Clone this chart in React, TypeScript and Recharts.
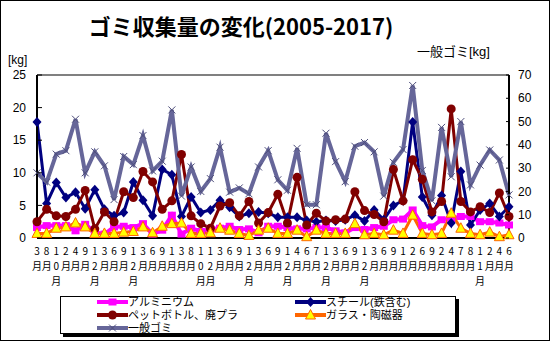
import { ComposedChart, Line, XAxis, YAxis, ReferenceLine, Legend } from "recharts";

// 月ラベル(2005-2017)
const months = [
  "3月", "8月", "10月", "2月", "4月", "9月", "12月", "3月", "6月", "9月",
  "12月", "3月", "6月", "9月", "1月", "3月", "8月", "10月", "12月", "3月",
  "6月", "9月", "12月", "3月", "6月", "9月", "12月", "4月", "6月", "7月",
  "12月", "3月", "6月", "9月", "12月", "3月", "6月", "9月", "1月", "2月",
  "6月", "9月", "2月", "4月", "7月", "8月", "11月", "2月", "4月", "6月",
];

const aluminum = [
  1.6, 1.9, 1.9, 1.9, 1.1, 2.1, 0.9, 0.6, 1.7, 1.8,
  1.6, 2.2, 0.6, 1.2, 3.5, 0.6, 1.5, 1.0, 1.4, 1.5,
  1.8, 1.3, 1.4, 0.8, 1.8, 1.8, 1.6, 1.4, 1.4, 1.6,
  1.6, 1.1, 0.8, 1.6, 1.3, 1.6, 1.8, 2.8, 2.9, 4.3,
  1.9, 1.7, 2.8, 3.0, 3.3, 3.3, 2.5, 2.5, 2.3, 2.0,
];

const steel = [
  17.8, 5.3, 8.5, 6.2, 7.0, 4.5, 7.4, 4.4, 3.4, 3.9,
  8.6, 5.8, 3.4, 10.5, 9.7, 3.3, 6.3, 3.9, 4.3, 5.8,
  4.7, 3.3, 3.8, 4.0, 3.8, 3.2, 3.2, 3.2, 2.7, 2.5,
  2.7, 2.6, 2.8, 3.5, 2.6, 4.3, 2.8, 5.0, 5.7, 17.8,
  6.3, 3.5, 6.5, 2.3, 10.2, 2.0, 4.3, 5.3, 3.3, 4.8,
];

const pet = [
  2.5, 4.4, 3.4, 3.3, 4.4, 7.3, 1.4, 4.0, 2.5, 7.1,
  6.2, 10.2, 8.6, 4.4, 5.7, 12.8, 3.4, 2.2, 1.5, 4.9,
  5.4, 3.4, 5.6, 2.3, 3.9, 6.7, 2.3, 9.3, 2.0, 3.8,
  2.6, 2.8, 2.9, 7.1, 4.2, 3.6, 2.5, 10.5, 5.7, 12.0,
  9.0, 4.0, 5.6, 19.8, 5.6, 4.0, 4.8, 3.9, 6.9, 3.3,
];

const glass = [
  0.7, 0.7, 1.5, 1.7, 2.3, 1.7, 0.7, 0.7, 0.7, 0.9,
  1.0, 1.7, 0.8, 1.8, 2.2, 2.3, 0.7, 0.7, 0.8, 1.5,
  1.2, 0.7, 0.4, 1.2, 1.5, 0.7, 0.7, 1.2, 0.2, 1.2,
  0.7, 0.7, 0.7, 2.2, 0.5, 0.7, 0.5, 1.2, 0.7, 3.5,
  0.7, 0.5, 0.7, 3.8, 1.5, 0.7, 0.5, 0.9, 0.2, 0.5,
];

const general = [
  28, 24, 36, 37.5, 51, 28, 37, 31, 16.5, 35,
  31.5, 44, 28.8, 33, 55, 18, 30.5, 20, 25.5, 39,
  19.7, 21.5, 19, 30.5, 37.5, 25, 20.5, 38.5, 14.3, 14.3,
  45, 32.8, 24.2, 39.4, 41, 37, 18, 32.5, 38, 65.5,
  29, 16, 47.5, 26.3, 50, 22.8, 31.3, 37.8, 33.5, 18.5,
];

const leftTicks = [0, 5, 10, 15, 20, 25];
const rightTicks = [0, 10, 20, 30, 40, 50, 60, 70];

const data = months.map((m, i) => ({
  month: m,
  aluminum: aluminum[i],
  steel: steel[i],
  pet: pet[i],
  glass: glass[i],
  general: general[i],
}));

const FONT = "'Noto Sans CJK JP', 'Noto Sans', sans-serif";
// 小さい文字は行の高さが詰まるのでLiberationを先頭に
const SMALL_FONT = "'Liberation Sans', 'Noto Sans CJK JP', sans-serif";

// マーカー
const marker = (key: string, cx: number, cy: number, k?: any) => {
  switch (key) {
    case "aluminum":
      return <rect key={k} x={cx - 4} y={cy - 3.5} width={8} height={7} fill="#FF00FF" />;
    case "steel":
      return (
        <polygon
          key={k}
          points={`${cx},${cy - 5} ${cx + 4.5},${cy} ${cx},${cy + 5} ${cx - 4.5},${cy}`}
          fill="#000080"
        />
      );
    case "pet":
      return <circle key={k} cx={cx} cy={cy} r={4.5} fill="#800000" />;
    case "glass":
      return (
        <polygon
          key={k}
          points={`${cx},${cy - 5.5} ${cx + 5},${cy + 4} ${cx - 5},${cy + 4}`}
          fill="#FFFF00"
          stroke="#FF6600"
          strokeWidth={1}
        />
      );
    default:
      return (
        <g key={k} stroke="#4d4d7a" strokeWidth={1}>
          <line x1={cx - 3.5} y1={cy - 3.5} x2={cx + 3.5} y2={cy + 3.5} />
          <line x1={cx - 3.5} y1={cy + 3.5} x2={cx + 3.5} y2={cy - 3.5} />
        </g>
      );
  }
};

const dotFor = (key: string) => (props: any) => {
  if (props.cx == null || props.cy == null) return <g key={props.index} />;
  return marker(key, props.cx, props.cy, props.index);
};

const MonthTick = (props: any) => {
  const { x, y, payload } = props;
  const chars = String(payload.value).split("");
  return (
    <text x={x} y={y} textAnchor="middle" fontSize={10} fill="#000" fontFamily={FONT}>
      {chars.map((c, i) => (
        <tspan key={i} x={x} dy={i === 0 ? 17 : 15}>
          {c}
        </tspan>
      ))}
    </text>
  );
};

const LeftTick = (props: any) => {
  const { x, y, payload } = props;
  return (
    <g>
      <line x1={x + 11} x2={x + 16} y1={y} y2={y} stroke="#000" strokeWidth={1} />
      <text x={x} y={y} dy="0.35em" textAnchor="end" fontSize={12} fill="#000" fontFamily={SMALL_FONT}>
        {payload.value}
      </text>
    </g>
  );
};

const RightTick = (props: any) => {
  const { x, y, payload } = props;
  return (
    <g>
      <line x1={x - 9} x2={x - 12} y1={y} y2={y} stroke="#000" strokeWidth={1} />
      <text x={x} y={y} dy="0.35em" textAnchor="start" fontSize={12} fill="#000" fontFamily={SMALL_FONT}>
        {payload.value}
      </text>
    </g>
  );
};

const order = ["aluminum", "steel", "pet", "glass", "general"];

const LegendBox = (props: any) => {
  const items = [...(props.payload || [])].sort(
    (a: any, b: any) => order.indexOf(a.dataKey) - order.indexOf(b.dataKey)
  );
  return (
    <div
      style={{
        position: "relative",
        width: 396,
        height: 38,
        border: "1px solid #000",
        boxSizing: "border-box",
        boxShadow: "3px 3px 0 #000",
        background: "#fff",
        fontFamily: SMALL_FONT,
      }}
    >
      {items.map((entry: any, i: number) => {
        const col = i % 2;
        const row = Math.floor(i / 2);
        return (
          <div
            key={entry.dataKey}
            style={{
              position: "absolute",
              left: col === 0 ? 36 : 234,
              top: row * 13 - 1,
              height: 12,
              display: "flex",
              alignItems: "center",
              whiteSpace: "nowrap",
            }}
          >
            <svg width={31} height={12}>
              <line x1={0} x2={31} y1={6} y2={6} stroke={entry.color} strokeWidth={4} />
              {marker(entry.dataKey, 15.5, 6)}
            </svg>
            <span style={{ fontSize: 11, lineHeight: "12px", color: "#000" }}>{entry.value}</span>
          </div>
        );
      })}
    </div>
  );
};

export default function App() {
  return (
    <div
      style={{
        position: "absolute",
        left: 0,
        top: 0,
        width: 550,
        height: 341,
        background: "#fff",
        boxShadow: "inset 0 0 0 1px #000",
        fontFamily: FONT,
      }}
    >
      <div
        style={{
          position: "absolute",
          left: 0,
          width: 482,
          top: 13,
          textAlign: "center",
          fontSize: 22,
          lineHeight: "24px",
          fontWeight: "bold",
          color: "#000",
        }}
      >
        ゴミ収集量の変化(2005-2017)
      </div>
      <div
        style={{ position: "absolute", left: 8, top: 54, fontSize: 12, lineHeight: "13px", fontFamily: SMALL_FONT }}
      >
        [kg]
      </div>
      <div
        style={{ position: "absolute", left: 417, top: 45, fontSize: 13, lineHeight: "14px", fontFamily: SMALL_FONT }}
      >
        一般ゴミ[kg]
      </div>
      <ComposedChart
        width={550}
        height={341}
        data={data}
        margin={{ top: 75, right: 0, bottom: 43, left: 0 }}
      >
        <XAxis
          dataKey="month"
          interval={0}
          height={60}
          tickLine={false}
          tickSize={0}
          tickMargin={0}
          axisLine={{ stroke: "#000", strokeWidth: 2 }}
          tick={<MonthTick />}
        />
        <YAxis
          yAxisId="left"
          width={37}
          domain={[0, 25]}
          ticks={leftTicks}
          tickLine={false}
          tickSize={0}
          tickMargin={11}
          axisLine={{ stroke: "#000", strokeWidth: 2 }}
          tick={<LeftTick />}
        />
        <YAxis
          yAxisId="right"
          orientation="right"
          width={41}
          domain={[0, 70]}
          ticks={rightTicks}
          tickLine={false}
          tickSize={0}
          tickMargin={9}
          axisLine={{ stroke: "#000", strokeWidth: 2 }}
          tick={<RightTick />}
        />
        <ReferenceLine yAxisId="left" y={25} stroke="#808080" strokeWidth={2} />
        <Legend
          layout="horizontal"
          verticalAlign="middle"
          align="center"
          wrapperStyle={{ left: 60, top: 296, width: 396, height: 38 }}
          content={<LegendBox />}
        />
        <Line
          yAxisId="left"
          type="linear"
          dataKey="aluminum"
          name="アルミニウム"
          stroke="#FF00FF"
          strokeWidth={4}
          dot={dotFor("aluminum")}
          activeDot={false}
          isAnimationActive={false}
        />
        <Line
          yAxisId="left"
          type="linear"
          dataKey="steel"
          name="スチール(鉄含む)"
          stroke="#000080"
          strokeWidth={3}
          dot={dotFor("steel")}
          activeDot={false}
          isAnimationActive={false}
        />
        <Line
          yAxisId="left"
          type="linear"
          dataKey="pet"
          name="ペットボトル、廃プラ"
          stroke="#800000"
          strokeWidth={3}
          dot={dotFor("pet")}
          activeDot={false}
          isAnimationActive={false}
        />
        <Line
          yAxisId="left"
          type="linear"
          dataKey="glass"
          name="ガラス・陶磁器"
          stroke="#FF6600"
          strokeWidth={3}
          dot={dotFor("glass")}
          activeDot={false}
          isAnimationActive={false}
        />
        <Line
          yAxisId="right"
          type="linear"
          dataKey="general"
          name="一般ゴミ"
          stroke="#666699"
          strokeWidth={4}
          dot={dotFor("general")}
          activeDot={false}
          isAnimationActive={false}
        />
      </ComposedChart>
    </div>
  );
}
